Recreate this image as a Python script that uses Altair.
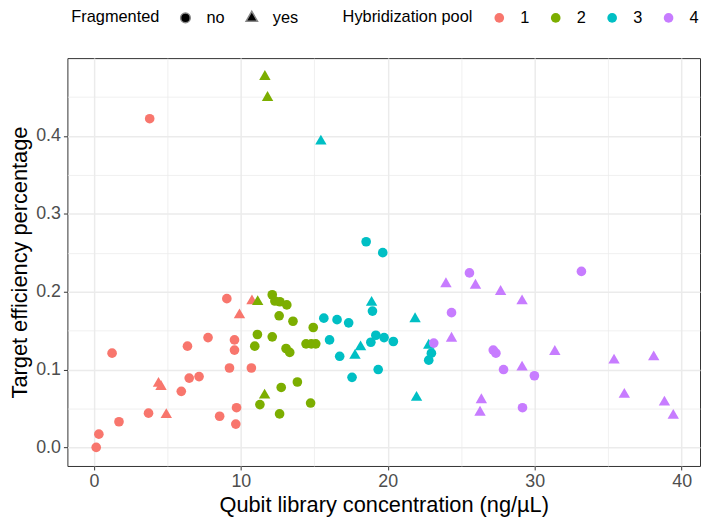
import altair as alt
import pandas as pd

# Pool 1
p1_circ_x = [0.16, 0.34, 1.24, 1.71, 3.72, 3.80, 5.95, 6.37, 6.49, 7.16, 7.77, 8.56, 9.05, 9.23, 9.57, 9.57, 9.71, 9.66, 10.72]
p1_circ_y = [0.000, 0.017, 0.121, 0.033, 0.044, 0.422, 0.072, 0.130, 0.089, 0.091, 0.141, 0.040, 0.191, 0.102, 0.138, 0.125, 0.051, 0.030, 0.102]
p1_tri_x = [4.40, 4.57, 4.93, 9.91, 10.76]
p1_tri_y = [0.082, 0.078, 0.042, 0.170, 0.188]

# Pool 2
p2_circ_x = [12.14, 12.32, 12.66, 13.13, 12.61, 13.55, 14.93, 11.13, 12.14, 10.95, 13.08, 13.33, 14.44, 14.80, 15.10, 13.85, 12.75, 11.30, 14.75, 12.64]
p2_circ_y = [0.196, 0.188, 0.187, 0.183, 0.169, 0.162, 0.154, 0.145, 0.142, 0.130, 0.127, 0.122, 0.133, 0.133, 0.133, 0.084, 0.077, 0.055, 0.057, 0.043]
p2_tri_x = [11.64, 11.82, 11.15, 11.62]
p2_tri_y = [0.476, 0.449, 0.187, 0.067]

# Pool 3
p3_circ_x = [18.53, 19.66, 18.96, 15.65, 16.55, 17.34, 16.04, 16.73, 18.85, 19.19, 19.75, 20.38, 17.57, 19.35, 22.97, 22.79]
p3_circ_y = [0.264, 0.250, 0.175, 0.166, 0.164, 0.160, 0.138, 0.117, 0.135, 0.144, 0.141, 0.136, 0.090, 0.100, 0.121, 0.112]
p3_tri_x = [15.45, 18.90, 18.15, 17.77, 21.86, 21.96, 22.79]
p3_tri_y = [0.393, 0.186, 0.129, 0.118, 0.165, 0.064, 0.131]

# Pool 4
p4_circ_x = [25.56, 33.18, 24.34, 23.13, 27.18, 27.36, 27.88, 29.17, 29.98]
p4_circ_y = [0.224, 0.226, 0.173, 0.134, 0.125, 0.121, 0.100, 0.051, 0.092]
p4_tri_x = [23.96, 25.97, 27.68, 29.14, 24.34, 29.14, 26.37, 26.28, 31.37, 35.40, 38.10, 36.10, 38.83, 39.43]
p4_tri_y = [0.210, 0.208, 0.200, 0.188, 0.140, 0.103, 0.061, 0.045, 0.123, 0.112, 0.116, 0.068, 0.058, 0.041]

pool_labels = ["1", "2", "3", "4"]
pool_colors = ["#F8766D", "#7CAE00", "#00BFC4", "#C77CFF"]
frag_labels = ["no", "yes"]

groups = [
    ("1", p1_circ_x, p1_circ_y, p1_tri_x, p1_tri_y),
    ("2", p2_circ_x, p2_circ_y, p2_tri_x, p2_tri_y),
    ("3", p3_circ_x, p3_circ_y, p3_tri_x, p3_tri_y),
    ("4", p4_circ_x, p4_circ_y, p4_tri_x, p4_tri_y),
]
rows = []
for pool, cx, cy, tx, ty in groups:
    for a, b in zip(cx, cy):
        rows.append({"conc": a, "eff": b, "pool": pool, "frag": "no"})
    for a, b in zip(tx, ty):
        rows.append({"conc": a, "eff": b, "pool": pool, "frag": "yes"})
df = pd.DataFrame(rows)

FONT = "Liberation Sans"
MAJOR = 1.5
MINOR = 0.75
GRID = "#EBEBEB"
TRIANGLE = "M0,-1.36L1.18,0.68L-1.18,0.68Z"

x_ticks = [0, 5, 10, 15, 20, 25, 30, 35, 40]
y_ticks = [0.0, 0.05, 0.1, 0.15, 0.2, 0.25, 0.3, 0.35, 0.4, 0.45]

chart = alt.Chart(df).mark_point(filled=True, opacity=1, size=95).encode(
    x=alt.X("conc:Q",
            scale=alt.Scale(domain=[-1.8, 41.25], nice=False, zero=False),
            axis=alt.Axis(
                title="Qubit library concentration (ng/µL)",
                values=x_ticks,
                labelExpr="datum.value % 10 == 0 ? datum.label : ''",
                gridWidth={"condition": {"test": "datum.value % 10 == 0", "value": MAJOR}, "value": MINOR},
                tickOpacity={"condition": {"test": "datum.value % 10 == 0", "value": 1}, "value": 0},
                titlePadding=4,
            )),
    y=alt.Y("eff:Q",
            scale=alt.Scale(domain=[-0.0238, 0.4998], nice=False, zero=False),
            axis=alt.Axis(
                title="Target efficiency percentage",
                values=y_ticks,
                format=".1f",
                labelExpr="round(datum.value*100) % 10 == 0 ? datum.label : ''",
                gridWidth={"condition": {"test": "round(datum.value*100) % 10 == 0", "value": MAJOR}, "value": MINOR},
                tickOpacity={"condition": {"test": "round(datum.value*100) % 10 == 0", "value": 1}, "value": 0},
                titlePadding=4,
            )),
    color=alt.Color("pool:N",
                    scale=alt.Scale(domain=pool_labels, range=pool_colors),
                    legend=alt.Legend(title="Hybridization pool", orient="none",
                                      legendX=278, legendY=-49, direction="horizontal",
                                      titleOrient="left", symbolType="circle")),
    shape=alt.Shape("frag:N",
                    scale=alt.Scale(domain=frag_labels, range=["circle", TRIANGLE]),
                    legend=alt.Legend(title="Fragmented", orient="none",
                                      legendX=4, legendY=-49, direction="horizontal",
                                      titleOrient="left", symbolFillColor="black")),
).properties(
    width=639,
    height=412,
    autosize=alt.AutoSizeParams(type="none"),
    padding={"left": 60, "top": 48, "right": 1, "bottom": 56},
).configure_view(
    stroke="#333333", strokeWidth=1
).configure_axis(
    domain=False,
    gridColor=GRID,
    tickColor="#333333",
    tickSize=4,
    tickWidth=1,
    labelFont=FONT,
    labelFontSize=18,
    labelColor="#4D4D4D",
    labelPadding=3,
    titleFont=FONT,
    titleFontSize=22,
    titleFontWeight="normal",
    titleColor="#000000",
).configure_legend(
    labelFont=FONT,
    labelFontSize=16.5,
    labelColor="#000000",
    titleFont=FONT,
    titleFontSize=16.5,
    titleFontWeight="normal",
    titleColor="#000000",
    titlePadding=18,
    labelOffset=13,
    columnPadding=18,
    symbolSize=95,
)

chart.save("out.html", embed_options={"renderer": "svg", "actions": False})
